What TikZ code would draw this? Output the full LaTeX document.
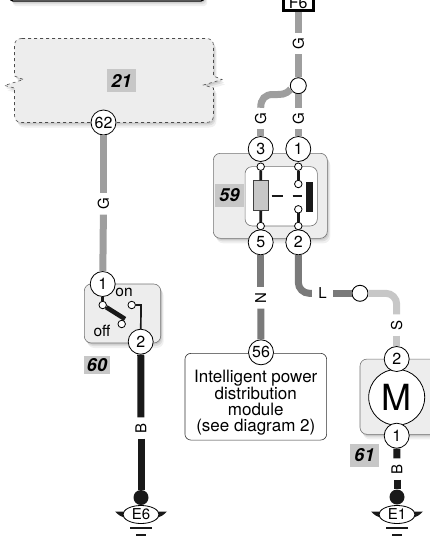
\documentclass[tikz,border=0pt]{standalone}
\usepackage{fontspec}
\setmainfont{TeX Gyre Heros}
\usetikzlibrary{shadows}
\usetikzlibrary{shapes.geometric}

\tikzset{
softshadow/.style={drop shadow={shadow xshift=1pt,shadow yshift=-1.5pt,opacity=.09,fill=black},
  drop shadow={shadow xshift=2pt,shadow yshift=-3pt,opacity=.08,fill=black},
  drop shadow={shadow xshift=3pt,shadow yshift=-5pt,opacity=.06,fill=black}},
unitbox/.style={rectangle,rounded corners=7pt,draw=black!55,fill=black!7,line width=.6pt,inner sep=0pt,softshadow},
pin/.style={circle,draw=black,fill=white,line width=.8pt,minimum size=25pt,inner sep=0pt,font=\fontsize{16}{16}\selectfont},
term/.style={circle,draw=black,fill=white,line width=.8pt,minimum size=7.5pt,inner sep=0pt},
joint/.style={circle,draw=black,fill=white,line width=.9pt,minimum size=16pt,inner sep=0pt},
wirelabel/.style={rectangle,inner sep=0pt,minimum width=21pt,minimum height=10pt,font=\fontsize{15}{15}\selectfont},
refno/.style={rectangle,fill=black!22,inner sep=0pt,minimum height=23pt,font=\fontsize{18}{18}\selectfont\bfseries\itshape},
wireG/.style={line width=7pt,draw=black!38},
wireN/.style={line width=7pt,draw=black!52},
wireS/.style={line width=7pt,draw=black!22},
wireB/.style={line width=7pt,draw=black!90},
inner/.style={line width=2.8pt,draw=black!90},
}

\begin{document}
\begin{tikzpicture}[x=1pt,y=-1pt]
\useasboundingbox (0,0) rectangle (430,536);
\clip (0,0) rectangle (430,536);

% top panel and fuse
\draw[fill=white,draw=black,line width=1.2pt,rounded corners=3pt,softshadow] (10,-20) rectangle (204,1);
\node[rectangle,draw=black,fill=white,line width=3pt,minimum width=30pt,minimum height=30pt,inner sep=0pt,anchor=south] (fuseF6) at (298.3,11.8) {};
\node[font=\fontsize{16}{16}\selectfont] (textF6) at (298.3,2.5) {F6};

% unit 21
\draw[fill=black!7,draw=black!70,dashed,line width=.6pt,softshadow] (22,38.5) -- (206,38.5) .. controls (211,38.5) and (213.5,41) .. (213.5,46)
  -- (213.5,76) -- (222,79.5) -- (203.5,85) -- (213.5,88) -- (213.5,115) .. controls (213.5,120) and (211,122.5) .. (206,122.5)
  -- (22,122.5) .. controls (17,122.5) and (14.5,120) .. (14.5,115) -- (14.5,88) -- (4.5,85.5) -- (23.5,79.5) -- (14.5,76) -- (14.5,46)
  .. controls (14.5,41) and (17,38.5) .. (22,38.5) -- cycle;
\node[refno,minimum width=29pt] (ref21) at (121.5,80.5) {21};
\node[pin] (pin62) at (103.5,122.5) {62};

% switch 60
\node[unitbox,minimum width=76.4pt,minimum height=59pt] (box60) at (122.5,313.5) {};
\node[pin] (pin1a) at (102.7,284) {1};
\node[pin] (pin2a) at (140.7,341.7) {2};
\node[font=\fontsize{15.5}{15.5}\selectfont] (texton) at (124,292.5) {on};
\node[font=\fontsize{15.5}{15.5}\selectfont] (textoff) at (102,330.5) {off};
\node[refno,minimum width=26pt,minimum height=18.5pt] (ref60) at (97,365) {60};
\node[term] (swA) at (102.7,305) {};
\node[term] (swB) at (121.7,324) {};
\node[term] (swC) at (131.7,305) {};
\coordinate (swTip) at (125,319);
\coordinate (swBend) at (141,305);
\draw[inner] (pin1a) -- (swA);
\draw[line width=4.6pt,draw=black!90] (swA) -- (swTip);
\draw[line width=1.7pt,draw=black!90] (swC) -- (swBend) -- (pin2a);

% relay 59
\node[unitbox,minimum width=114pt,minimum height=85pt] (box59) at (270.3,195.8) {};
\node[rectangle,rounded corners=7pt,draw=black!55,fill=white,line width=.6pt,minimum width=72.3pt,minimum height=59.3pt,inner sep=0pt] (core59) at (281.2,196.3) {};
\node[refno,minimum width=29pt] (ref59) at (229.5,195.3) {59};
\node[rectangle,draw=black!75,fill=black!22,line width=.6pt,minimum width=15.4pt,minimum height=30pt,inner sep=0pt] (coil) at (261,195.7) {};
\node[rectangle,fill=black!90,minimum width=6.7pt,minimum height=29.4pt,inner sep=0pt] (contact) at (309.7,197) {};
\node[term] (trA) at (260.7,166.7) {};
\node[term] (trB) at (298.3,166.7) {};
\node[term] (trC) at (260.7,226) {};
\node[term] (trD) at (298.3,226) {};
\node[term] (trE) at (298.3,184) {};
\node[term] (trF) at (298.3,209.3) {};
\draw[inner] (trA) -- (coil);
\draw[inner] (coil) -- (trC);
\draw[inner] (trB) -- (trE);
\draw[inner] (trF) -- (trD);
\coordinate (dashAa) at (271.7,196);
\coordinate (dashAb) at (282.7,196);
\coordinate (dashBa) at (292.7,196);
\coordinate (dashBb) at (301.7,196);
\draw[line width=1.2pt,draw=black!90] (dashAa) -- (dashAb);
\draw[line width=1.2pt,draw=black!90] (dashBa) -- (dashBb);
\node[pin] (pin3b) at (260.7,149) {3};
\node[pin] (pin1b) at (298.3,149) {1};
\node[pin] (pin5b) at (260.7,242.3) {5};
\node[pin] (pin2b) at (298.3,242.3) {2};

% module
\node[rectangle,rounded corners=6pt,draw=black!80,fill=white,line width=.6pt,minimum width=141.7pt,minimum height=86.7pt,inner sep=0pt,align=center,font=\fontsize{17}{15.8}\selectfont] (module) at (255.8,396.7) {\rule{0pt}{24pt}Intelligent power\\distribution\\module\\(see diagram 2)};
\node[pin] (pin56) at (261,352.3) {56};

% motor 61
\node[unitbox,minimum width=100pt,minimum height=75.3pt] (box61) at (410,396.7) {};
\node[circle,draw=black,fill=white,line width=.8pt,minimum size=56pt,inner sep=0pt,font=\fontsize{36}{36}\selectfont] (motor) at (396.7,397.3) {M};
\node[pin] (pin2c) at (396.7,359) {2};
\node[pin] (pin1c) at (396.7,435.7) {1};
\node[refno,minimum width=29pt] (ref61) at (364.5,455.3) {61};

% wire labels
\node[wirelabel,rotate=90] (lblGa) at (298.3,43.5) {G};
\node[wirelabel,rotate=90] (lblGb) at (260.7,118.5) {G};
\node[wirelabel,rotate=90] (lblGc) at (298.3,118.5) {G};
\node[wirelabel,rotate=90] (lblGd) at (103.5,204) {G};
\node[wirelabel,rotate=90] (lblBa) at (141,428) {B};
\node[wirelabel,rotate=90] (lblBb) at (397,469) {B};
\node[wirelabel,rotate=90] (lblN) at (260.7,298) {N};
\node[wirelabel,rotate=90] (lblS) at (396.7,325) {S};
\node[wirelabel] (lblL) at (322.5,293.3) {L};
\node[joint] (joinG) at (298.3,85.7) {};
\node[joint] (joinL) at (360,293.3) {};
\node[circle,fill=black!90,minimum size=15pt,inner sep=0pt] (dotE6) at (141,497.5) {};
\node[circle,fill=black!90,minimum size=15pt,inner sep=0pt] (dotE1) at (397,497) {};

% connectors
\draw[wireG] (fuseF6) -- (lblGa);
\draw[wireG] (lblGa) -- (joinG);
\draw[wireG] (joinG) -- (lblGc);
\draw[wireG] (joinG.205) .. controls (285,95) and (282,94.5) .. (273,94.5) .. controls (265,94.5) and (260.7,99) .. (lblGb);
\draw[wireG] (lblGb) -- (pin3b);
\draw[wireG] (lblGc) -- (pin1b);
\draw[wireG] (pin62) -- (lblGd);
\draw[wireG] (lblGd) -- (pin1a);
\draw[wireB] (pin2a) -- (lblBa);
\draw[wireB] (lblBa) -- (dotE6);
\draw[wireN] (pin5b) -- (lblN);
\draw[wireN] (lblN) -- (pin56);
\draw[wireN,rounded corners=11pt] (pin2b) |- (lblL);
\draw[wireN] (lblL) -- (joinL);
\draw[wireS,rounded corners=11pt] (joinL) -| (lblS);
\draw[wireS] (lblS) -- (pin2c);
\draw[wireB] (pin1c) -- (lblBb);
\draw[wireB] (lblBb) -- (dotE1);

% earth points
\foreach \gx/\gname in {141/E6,397/E1}{
  \begin{scope}[shift={(\gx,514.5)}]
  \fill[black!90] (-26,-3) -- (-17,-3) .. controls (-13,5) and (13,5) .. (17,-3) -- (26,-3)
    .. controls (22,1) and (20,2) .. (17,3) .. controls (10,11) and (-10,11) .. (-17,3) .. controls (-20,2) and (-22,1) .. (-26,-3) -- cycle;
  \fill[black!90] (-11,12) rectangle (11,14.5);
  \fill[black!90] (-5,19.5) rectangle (5,22);
  \node[ellipse,draw=black,fill=white,line width=.8pt,minimum width=36pt,minimum height=18pt,inner sep=0pt,font=\fontsize{15}{15}\selectfont] (gnd\gname) at (0,0) {\gname};
  \end{scope}
}

\end{tikzpicture}
\end{document}
